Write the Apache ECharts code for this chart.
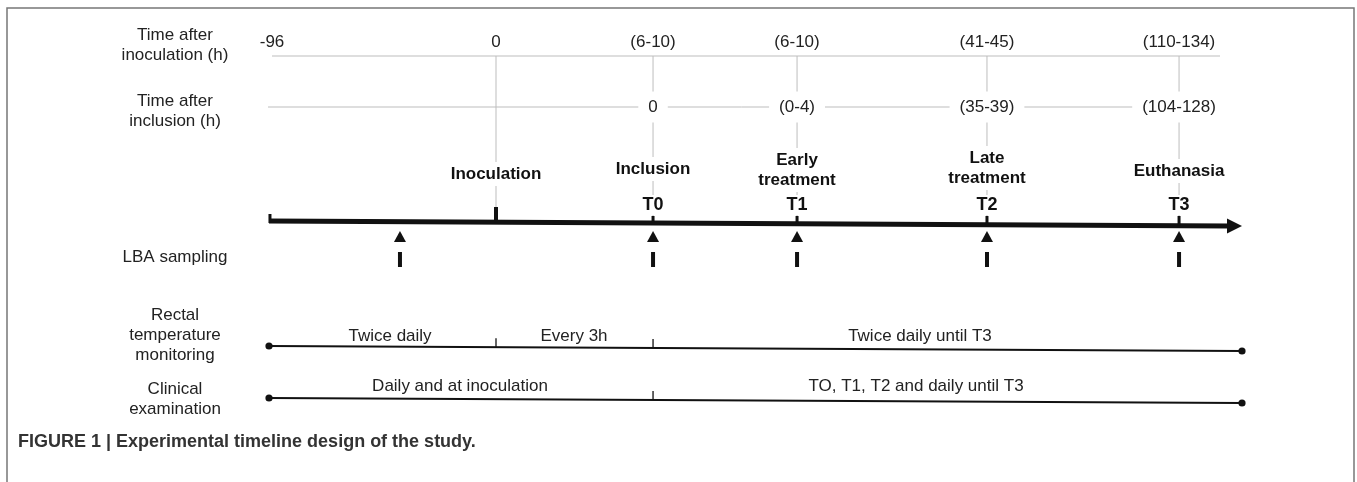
<!DOCTYPE html>
<html><head><meta charset="utf-8">
<script src="https://cdn.jsdelivr.net/npm/echarts@6/dist/echarts.min.js"></script>
<style>html,body{margin:0;padding:0;background:#fff}#c{width:1357px;height:482px}</style>
</head><body><div id="c"></div>
<script>
// ---------- DATA ----------
// schematic (not-to-scale) position of each time point along the timeline, 0..100
const timepointNames = ['Start', 'Inoculation', 'Inclusion', 'Early treatment', 'Late treatment', 'Euthanasia'];
const timelineSlot = [0, 23.33, 39.47, 54.27, 73.79, 93.53];
const timelineEnd = 100;
const hoursAfterInoculation = ['-96', '0', '(6-10)', '(6-10)', '(41-45)', '(110-134)'];
const hoursAfterInclusion = [null, null, '0', '(0-4)', '(35-39)', '(104-128)'];
const eventLabels = [null, 'Inoculation', 'Inclusion', 'Early\ntreatment', 'Late\ntreatment', 'Euthanasia'];
const tLabels = [null, null, 'T0', 'T1', 'T2', 'T3'];
const lbaSamplingSlots = [13.46, 39.47, 54.27, 73.79, 93.53];
const rectalSegments = ['Twice daily', 'Every 3h', 'Twice daily until T3'];
const rectalBreaks = [0, 23.33, 39.47, 100];
const rectalLabelSlots = [12.44, 31.35, 66.9];
const clinicalSegments = ['Daily and at inoculation', 'TO, T1, T2 and daily until T3'];
const clinicalBreaks = [0, 39.47, 100];
const clinicalLabelSlots = [19.63, 66.5];
const rowLabels = ['Time after\ninoculation (h)', 'Time after\ninclusion (h)', 'LBA sampling', 'Rectal\ntemperature\nmonitoring', 'Clinical\nexamination'];
const caption = 'FIGURE 1 | Experimental timeline design of the study.';

// ---------- LAYOUT / STYLE ----------
const FONT = '"Liberation Sans", Arial, Helvetica, sans-serif';
const FS = 17;
const L = {
  inocLabelY: 42, inocLineY: 56, inclLineY: 107,
  eventLabelY: [0, 174, 169, 170, 168, 171], tLabelY: 205,
  axisY0: 221, tilt: 0.05, arrowBase: 98.46,
  triTop: 231, triBot: 242, barTop: 252, barBot: 267,
  rectY0: 346, rectLabelY: 336, clinY0: 398, clinLabelY: 386,
  rowLabelX: 175, rowLabelY: [45, 111, 257, 335, 399],
  gray: '#bdbdbd', ink: '#111', text: '#222'
};

const chart = echarts.init(document.getElementById('c'));

function txt(p, s, o) {
  return {
    type: 'text', x: p[0], y: p[1],
    style: Object.assign({
      text: s, fill: L.text, font: FS + 'px ' + FONT, fontSize: FS, fontFamily: FONT,
      align: 'center', verticalAlign: 'middle', textAlign: 'center', textVerticalAlign: 'middle'
    }, o || {})
  };
}
function line(a, b, stroke, w) {
  return { type: 'line', shape: { x1: a[0], y1: a[1], x2: b[0], y2: b[1] }, style: { stroke: stroke, lineWidth: w } };
}

function renderGuides(params, api) {
  const P = (s, y) => api.coord([s, y]);
  const ch = [];
  ch.push(line(P(timelineSlot[0] + 0.31, L.inocLineY), P(97.74, L.inocLineY), L.gray, 1));
  ch.push(line(P(timelineSlot[0] - 0.1, L.inclLineY), P(97.2, L.inclLineY), L.gray, 1));
  for (let i = 1; i < timelineSlot.length; i++) {
    ch.push(line(P(timelineSlot[i], L.inocLineY), P(timelineSlot[i], i === 1 ? 207 : 216), L.gray, 1));
  }
  return { type: 'group', children: ch };
}

function renderLabels(params, api) {
  const P = (s, y) => api.coord([s, y]);
  const ch = [];
  hoursAfterInoculation.forEach((t, i) => {
    const s = i === 0 ? timelineSlot[i] + 0.31 : timelineSlot[i];
    ch.push(txt(P(s, L.inocLabelY), t, { fill: L.text }));
  });
  hoursAfterInclusion.forEach((t, i) => {
    if (!t) return;
    ch.push(txt(P(timelineSlot[i], L.inclLineY), t, { backgroundColor: '#fff', padding: [7, 10] }));
  });
  eventLabels.forEach((t, i) => {
    if (!t) return;
    ch.push(txt(P(timelineSlot[i], L.eventLabelY[i]), t, {
      fill: L.ink, font: 'bold 17px ' + FONT, fontSize: 17, fontWeight: 'bold', lineHeight: 20,
      backgroundColor: '#fff', padding: [2, 3]
    }));
  });
  tLabels.forEach((t, i) => {
    if (!t) return;
    ch.push(txt(P(timelineSlot[i], L.tLabelY), t, {
      fill: L.ink, font: 'bold 18px ' + FONT, fontSize: 18, fontWeight: 'bold',
      backgroundColor: '#fff', padding: [1, 2]
    }));
  });
  return { type: 'group', children: ch };
}

function renderAxis(params, api) {
  const P = (s, y) => api.coord([s, y]);
  const ay = s => L.axisY0 + L.tilt * s;
  const ch = [];
  const s0 = timelineSlot[0];
  ch.push(line(P(s0, ay(s0)), P(L.arrowBase + 0.2, ay(L.arrowBase)), L.ink, 5));
  const b1 = P(L.arrowBase, ay(L.arrowBase) - 7.5), b2 = P(L.arrowBase, ay(L.arrowBase) + 7.5), tip = P(timelineEnd, ay(timelineEnd));
  ch.push({ type: 'polygon', shape: { points: [b1, tip, b2] }, style: { fill: L.ink } });
  ch.push(line(P(s0 + 0.1, 214), P(s0 + 0.1, ay(s0) + 2), L.ink, 3));
  for (let i = 1; i < timelineSlot.length; i++) {
    const s = timelineSlot[i];
    ch.push(line(P(s, i === 1 ? 207 : 216), P(s, ay(s)), L.ink, i === 1 ? 4 : 3));
  }
  lbaSamplingSlots.forEach(s => {
    const c = P(s, L.triTop), b = P(s, L.triBot);
    ch.push({ type: 'polygon', shape: { points: [[c[0], c[1]], [c[0] - 6, b[1]], [c[0] + 6, b[1]]] }, style: { fill: L.ink } });
    ch.push(line(P(s, L.barTop), P(s, L.barBot), L.ink, 4));
  });
  return { type: 'group', children: ch };
}

function renderMonitoring(params, api) {
  const P = (s, y) => api.coord([s, y]);
  const ch = [];
  const rows = [
    { y0: L.rectY0, ly: L.rectLabelY, br: rectalBreaks, labels: rectalSegments, ls: rectalLabelSlots },
    { y0: L.clinY0, ly: L.clinLabelY, br: clinicalBreaks, labels: clinicalSegments, ls: clinicalLabelSlots }
  ];
  rows.forEach(r => {
    const yy = s => r.y0 + L.tilt * s;
    const a = r.br[0], b = r.br[r.br.length - 1];
    ch.push(line(P(a, yy(a)), P(b, yy(b)), L.ink, 2));
    [a, b].forEach(s => {
      const p = P(s, yy(s));
      ch.push({ type: 'circle', shape: { cx: p[0], cy: p[1], r: 3.6 }, style: { fill: L.ink } });
    });
    for (let k = 1; k < r.br.length - 1; k++) {
      const s = r.br[k];
      ch.push(line(P(s, yy(s) - 9), P(s, yy(s)), L.ink, 1.3));
    }
    r.labels.forEach((t, k) => ch.push(txt(P(r.ls[k], r.ly), t, { fill: L.text })));
  });
  return { type: 'group', children: ch };
}

const custom = (name, fn, z) => ({ type: 'custom', name: name, coordinateSystem: 'cartesian2d', data: [[0, 0]], renderItem: fn, clip: false, silent: true, z: z });

chart.setOption({
  animation: false,
  backgroundColor: '#fff',
  grid: { left: 269, right: 115, top: 0, bottom: 0 },
  xAxis: { type: 'value', min: 0, max: 100, show: false },
  yAxis: { type: 'value', min: 0, max: 482, inverse: true, show: false },
  graphic: [
    { type: 'polyline', shape: { points: [[7, 482], [7, 8], [1354, 8], [1354, 482]] }, style: { stroke: '#777', lineWidth: 1.5, fill: null }, z: 0 },
    ...rowLabels.map((t, i) => ({
      type: 'text', x: L.rowLabelX, y: L.rowLabelY[i],
      style: { text: t, fill: L.text, font: FS + 'px ' + FONT, lineHeight: 20, align: 'center', verticalAlign: 'middle', textAlign: 'center', textVerticalAlign: 'middle' }
    })),
    { type: 'text', x: 18, y: 442, style: { text: caption, fill: '#333', font: 'bold 18px ' + FONT, align: 'left', verticalAlign: 'middle', textVerticalAlign: 'middle' } }
  ],
  series: [
    custom('guides', renderGuides, 1),
    custom('labels', renderLabels, 2),
    custom('axis', renderAxis, 3),
    custom('monitoring', renderMonitoring, 3)
  ]
});
</script></body></html>
